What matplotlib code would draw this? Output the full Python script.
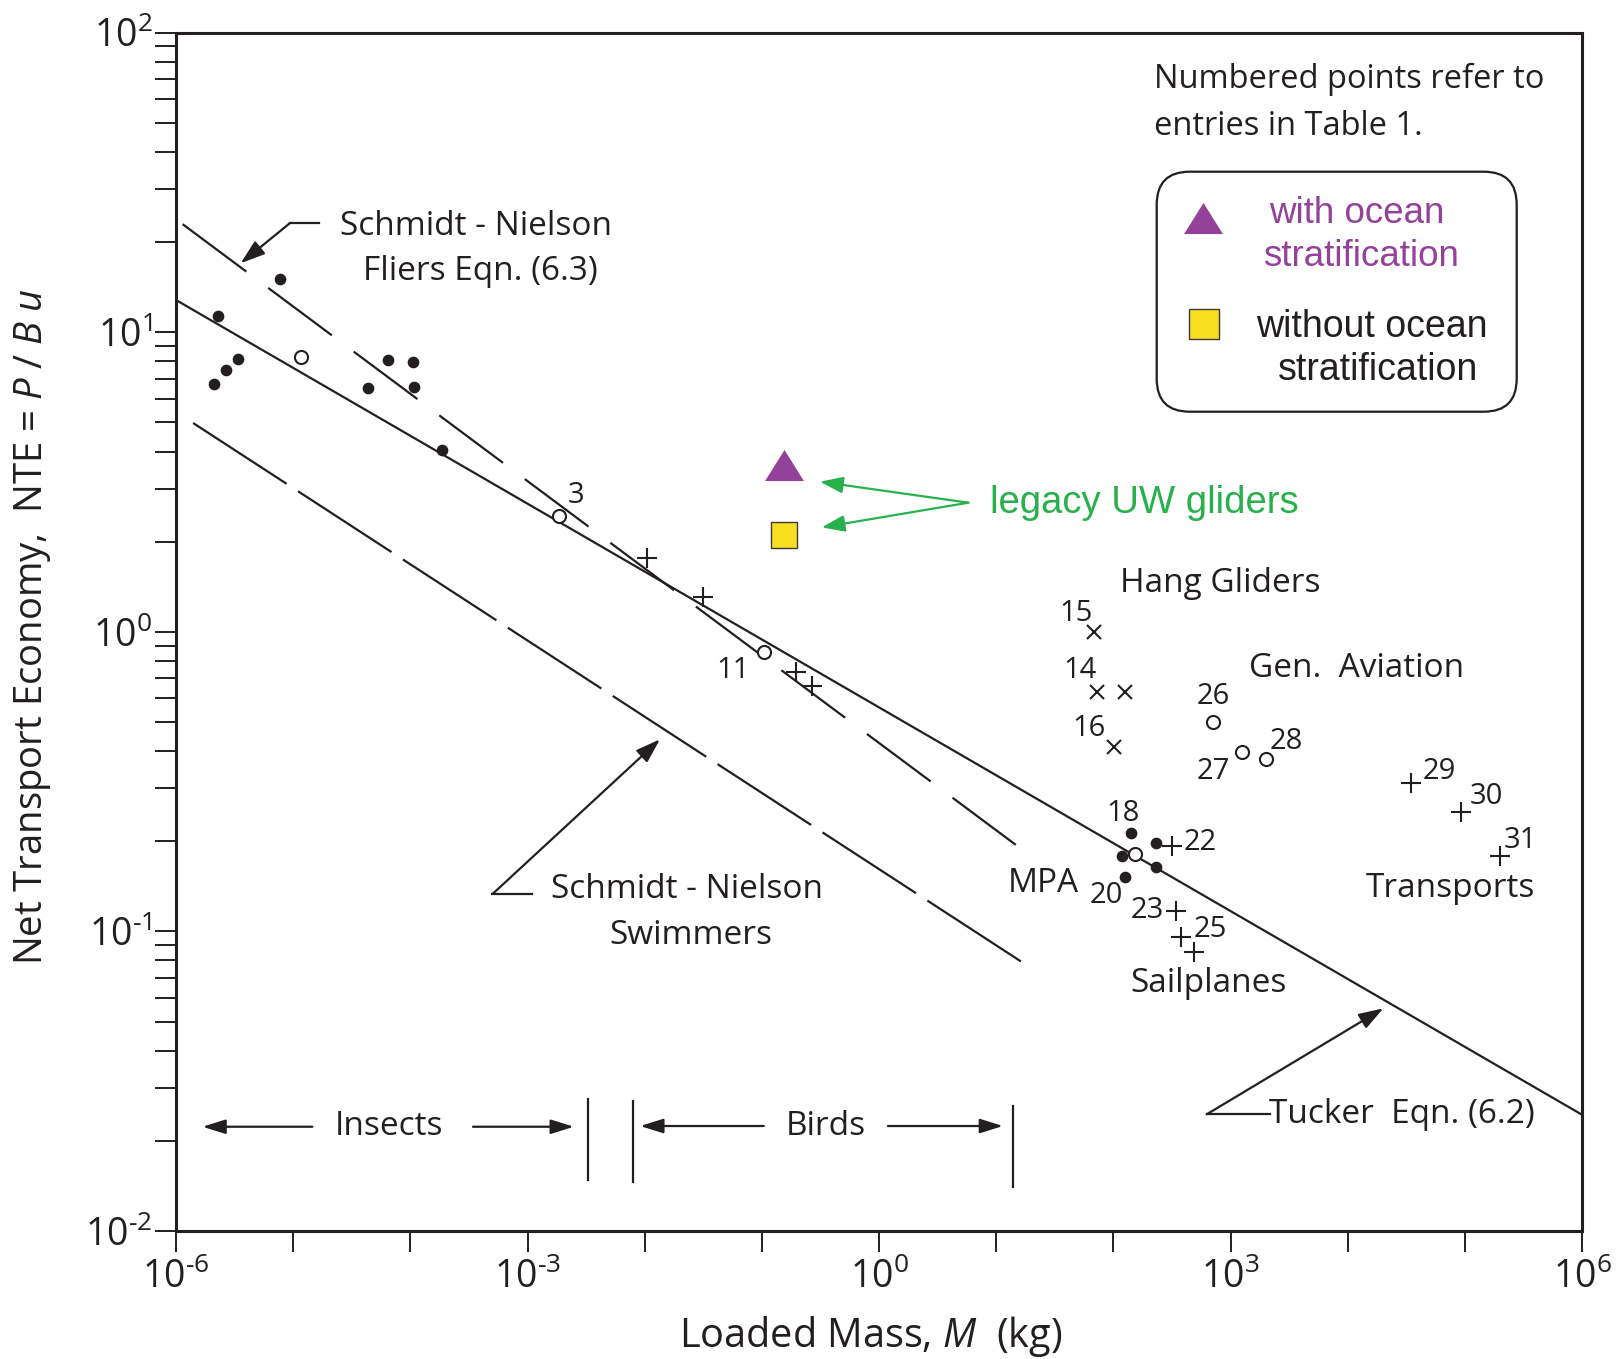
import numpy as np
import matplotlib
matplotlib.use("Agg")
import matplotlib.pyplot as plt
from matplotlib.patches import FancyBboxPatch
from matplotlib.ticker import FixedLocator, LogLocator, FuncFormatter, NullFormatter

plt.rcParams['font.family'] = ['Open Sans', 'DejaVu Sans']
plt.rcParams['mathtext.fontset'] = 'custom'
plt.rcParams['mathtext.rm'] = 'Open Sans'
plt.rcParams['mathtext.it'] = 'Open Sans:italic'
plt.rcParams['lines.scale_dashes'] = False

INK = '#231F20'
PURPLE = '#94419A'
YELLOW = '#F9DF22'
GREEN = '#27B04B'

# ---------------- data: loaded mass M (kg) and net transport economy ----------------
# filled dots: insects, small birds and man-powered aircraft
dots_M = [2.30e-6, 7.71e-6, 2.11e-6, 2.67e-6, 3.36e-6, 4.33e-5, 6.49e-5, 1.06e-4, 1.08e-4, 1.87e-4,
          140.6, 118.6, 230.1, 230.1, 125.0]
dots_NTE = [11.3, 15.1, 6.72, 7.48, 8.15, 6.53, 8.09, 7.98, 6.58, 4.05,
            0.213, 0.179, 0.197, 0.164, 0.152]

# open circles
circles_M = [1.16e-5, 1.854e-3, 0.1047, 709.6, 1253.0, 1995.0, 152.4]
circles_NTE = [8.30, 2.44, 0.855, 0.501, 0.396, 0.376, 0.181]

# plus signs: birds, sailplanes and transports
plus_M = [0.01038, 0.03155, 0.195, 0.2655, 319.2, 340.4, 381.1, 485.3, 34514.0, 93325.0, 198153.0]
plus_NTE = [1.77, 1.31, 0.736, 0.660, 0.193, 0.117, 0.0957, 0.0857, 0.314, 0.250, 0.179]

# crosses: hang gliders
cross_M = [68.1, 71.8, 125.0, 100.7]
cross_NTE = [1.00, 0.631, 0.631, 0.414]

# legacy UW gliders
glider_M = [0.156, 0.156]
glider_NTE = [3.61, 2.11]        # with / without ocean stratification

# reference lines, given by their end points (M, NTE)
tucker_M, tucker_NTE = [1e-6, 1e6], [12.82, 0.02443]
fliers_M, fliers_NTE = [1.14e-6, 14.7], [22.96, 0.1945]
swimmers_M, swimmers_NTE = [1.40e-6, 16.5], [4.98, 0.0791]

# mass ranges for insects and birds (kg)
insect_max = 3.3e-3
bird_min, bird_max = 7.9e-3, 13.9

# point numbers (Table 1) with label positions in axes fraction
point_labels = ['3', '11', '15', '14', '16', '26', '27', '28', '29', '30', '31',
                '18', '22', '20', '23', '25']
point_label_pos = [(0.2845, 0.6142), (0.3962, 0.4676), (0.6401, 0.5157), (0.6430, 0.4676),
                   (0.6496, 0.4195), (0.7378, 0.4459), (0.7378, 0.3833), (0.7900, 0.4083),
                   (0.8985, 0.3833), (0.9322, 0.3624), (0.9564, 0.3255), (0.6733, 0.3486),
                   (0.7283, 0.3240), (0.6619, 0.2798), (0.6911, 0.2673), (0.7359, 0.2520)]

group_labels = ['Hang Gliders', 'Gen.  Aviation', 'Transports', 'Sailplanes', 'MPA']
group_label_pos = [(0.7425, 0.5405), (0.8393, 0.4696), (0.9061, 0.2860), (0.7342, 0.2067),
                   (0.6165, 0.2896)]

x_decades = list(range(-6, 7))
x_labelled = [-6, -3, 0, 3, 6]

# ---------------- figure ----------------
fig = plt.figure(figsize=(16.19, 13.59), dpi=100)
ax = fig.add_axes([0.1087, 0.0942, 0.8685, 0.8817])
ax.set_xscale('log')
ax.set_yscale('log')
ax.set_xlim(1e-6, 1e6)
ax.set_ylim(1e-2, 1e2)

LW = 1.6

# reference lines
ax.plot(tucker_M, tucker_NTE, color=INK, lw=LW, solid_capstyle='butt', zorder=2)
ax.plot(fliers_M, fliers_NTE, color=INK, lw=LW, linestyle=(0, (57.2, 19.6)), zorder=2)
ax.plot(swimmers_M, swimmers_NTE, color=INK, lw=LW, linestyle=(0, (80.3, 9.8)), zorder=2)

# symbols
ax.plot(dots_M, dots_NTE, 'o', ms=7.4, color=INK, mec=INK, zorder=4)
ax.plot(circles_M, circles_NTE, 'o', ms=9.4, mfc='white', mec=INK, mew=1.5, zorder=4)
ax.plot(plus_M, plus_NTE, '+', ms=14, mew=1.5, color=INK, zorder=4)
ax.plot(cross_M, cross_NTE, 'x', ms=10, mew=1.5, color=INK, zorder=4)

tri = [(-1, -0.8), (1, -0.8), (0, 0.8)]
ax.plot(glider_M[:1], glider_NTE[:1], marker=tri, ms=28, color=PURPLE, mec=PURPLE, mew=0,
        linestyle='none', zorder=5)
ax.plot(glider_M[1:], glider_NTE[1:], marker='s', ms=19.4, mfc=YELLOW, mec='#3a3a3a', mew=1.0,
        linestyle='none', zorder=5)

# axes styling
for s in ax.spines.values():
    s.set_linewidth(2.2)
    s.set_color(INK)

def pow_label(v, pos):
    k = int(round(np.log10(v)))
    sign = '\u2010' if k < 0 else ''
    return r'$\mathregular{10^{%s%d}}$' % (sign, abs(k))

ax.xaxis.set_major_locator(FixedLocator([10.0 ** k for k in x_decades]))
ax.xaxis.set_major_formatter(FuncFormatter(
    lambda v, pos: pow_label(v, pos) if int(round(np.log10(v))) in x_labelled else ''))
ax.xaxis.set_minor_locator(FixedLocator([]))
ax.yaxis.set_major_locator(LogLocator(base=10, numticks=10))
ax.yaxis.set_major_formatter(FuncFormatter(pow_label))
ax.yaxis.set_minor_locator(LogLocator(base=10, subs=np.arange(2, 10), numticks=20))
ax.yaxis.set_minor_formatter(NullFormatter())
ax.tick_params(axis='both', which='both', direction='out', length=15, width=1.4, colors=INK,
               labelsize=27)
ax.tick_params(axis='x', pad=5)
ax.tick_params(axis='y', pad=2)

ax.set_xlabel(r'Loaded Mass, $\mathit{M}$  (kg)', fontsize=28.5, color=INK)
ax.xaxis.set_label_coords(0.4943, -0.0882)
ax.xaxis.label.set_va('center')
ax.set_ylabel(r'Net Transport Economy,  NTE = $\mathit{P}$ / $\mathit{B}$ $\mathit{u}$',
              fontsize=27.5, color=INK)
ax.yaxis.set_label_coords(-0.1017, 0.504)
ax.yaxis.label.set_va('center')

T = ax.transAxes
txt = dict(transform=T, color=INK, ha='center', va='center')
FS = 24

# group labels and point numbers
for s, (x, y) in zip(group_labels, group_label_pos):
    ax.text(x, y, s, fontsize=FS, **txt)
for s, (x, y) in zip(point_labels, point_label_pos):
    ax.text(x, y, s, fontsize=21, **txt)

# line annotations
ax.text(0.2134, 0.8387, 'Schmidt - Nielson', fontsize=FS, **txt)
ax.text(0.2162, 0.8011, 'Fliers Eqn. (6.3)', fontsize=FS, **txt)
ax.text(0.3632, 0.2854, 'Schmidt - Nielson', fontsize=FS, **txt)
ax.text(0.3661, 0.2470, 'Swimmers', fontsize=FS, **txt)
ax.text(0.8716, 0.0968, 'Tucker  Eqn. (6.2)', fontsize=FS, **txt)

arrow_kw = dict(arrowstyle='-|>,head_length=0.75,head_width=0.25', color=INK, lw=LW,
                shrinkA=0, shrinkB=0, mutation_scale=20)

def leader(x_text, x_elbow, y, tip):
    ax.plot([x_text, x_elbow], [y, y], transform=T, color=INK, lw=LW, clip_on=False)
    ax.annotate('', xy=tip, xytext=(x_elbow, y), xycoords=T, textcoords=T, arrowprops=arrow_kw)

leader(0.1019, 0.0811, 0.8412, (0.0460, 0.8076))
leader(0.2530, 0.2251, 0.2812, (0.3442, 0.4103))
leader(0.7781, 0.7331, 0.0974, (0.8587, 0.1858))

# mass ranges
ax.axvline(insect_max, ymin=0.0426, ymax=0.1099, color=INK, lw=LW)
ax.axvline(bird_min, ymin=0.0411, ymax=0.1087, color=INK, lw=LW)
ax.axvline(bird_max, ymin=0.0370, ymax=0.1046, color=INK, lw=LW)
ax.text(0.1515, 0.0870, 'Insects', fontsize=FS, **txt)
ax.text(0.4622, 0.0876, 'Birds', fontsize=FS, **txt)
for tail, tip, y in [(0.0970, 0.0189, 0.0870), (0.2112, 0.2829, 0.0870),
                     (0.4180, 0.3302, 0.0876), (0.5063, 0.5881, 0.0876)]:
    ax.annotate('', xy=(tip, y), xytext=(tail, y), xycoords=T, textcoords=T,
                arrowprops=dict(arrowstyle='-|>,head_length=0.7,head_width=0.22', color=INK,
                                lw=LW, shrinkA=0, shrinkB=0, mutation_scale=20))

# note
ax.text(0.6958, 0.9609, 'Numbered points refer to', fontsize=23.5, transform=T, color=INK,
        ha='left', va='center')
ax.text(0.6958, 0.9221, 'entries in Table 1.', fontsize=23.5, transform=T, color=INK,
        ha='left', va='center')

# key for the glider symbols, on an overlay axes; the frame is laid out in inches
# so the rounded corners stay circular
key_ax = fig.add_axes(ax.get_position(), facecolor='none')
key_ax.set_axis_off()
key_ax.set_xlim(0, 1)
key_ax.set_ylim(0, 1)
KT = key_ax.transAxes
box = FancyBboxPatch((11.567, 9.473), 3.600, 2.400, transform=fig.dpi_scale_trans,
                     boxstyle='round,pad=0,rounding_size=0.33',
                     fc='white', ec=INK, lw=1.6, zorder=1, clip_on=False)
key_ax.add_patch(box)
key_ax.plot([0.7304], [0.8453], marker=tri, ms=28, color=PURPLE, mew=0, linestyle='none',
            transform=KT, clip_on=False, zorder=3)
key_ax.plot([0.7313], [0.7567], marker='s', ms=21.5, mfc=YELLOW, mec='#3a3a3a', mew=1.0,
            linestyle='none', transform=KT, clip_on=False, zorder=3)
key = dict(transform=KT, ha='center', va='center', zorder=3,
           family=['Liberation Sans', 'DejaVu Sans'])
key_ax.text(0.8395, 0.8493, 'with ocean', color=PURPLE, fontsize=26.5, **key)
key_ax.text(0.8428, 0.8131, 'stratification', color=PURPLE, fontsize=26.5, **key)
key_ax.text(0.8506, 0.7546, 'without ocean', color=INK, fontsize=27, **key)
key_ax.text(0.8546, 0.7185, 'stratification', color=INK, fontsize=27, **key)

# legacy glider callout
ax.text(0.6885, 0.6073, 'legacy UW gliders', transform=T, ha='center', va='center',
        fontsize=27.5, color=GREEN, family=['Liberation Sans', 'DejaVu Sans'])
for tip in [(0.4580, 0.6253), (0.4592, 0.5872)]:
    ax.annotate('', xy=tip, xytext=(0.5635, 0.6078), xycoords=T, textcoords=T,
                arrowprops=dict(arrowstyle='-|>,head_length=0.7,head_width=0.25', color=GREEN,
                                lw=1.6, shrinkA=0, shrinkB=0, mutation_scale=20))

fig.savefig('out.png', dpi=100)
